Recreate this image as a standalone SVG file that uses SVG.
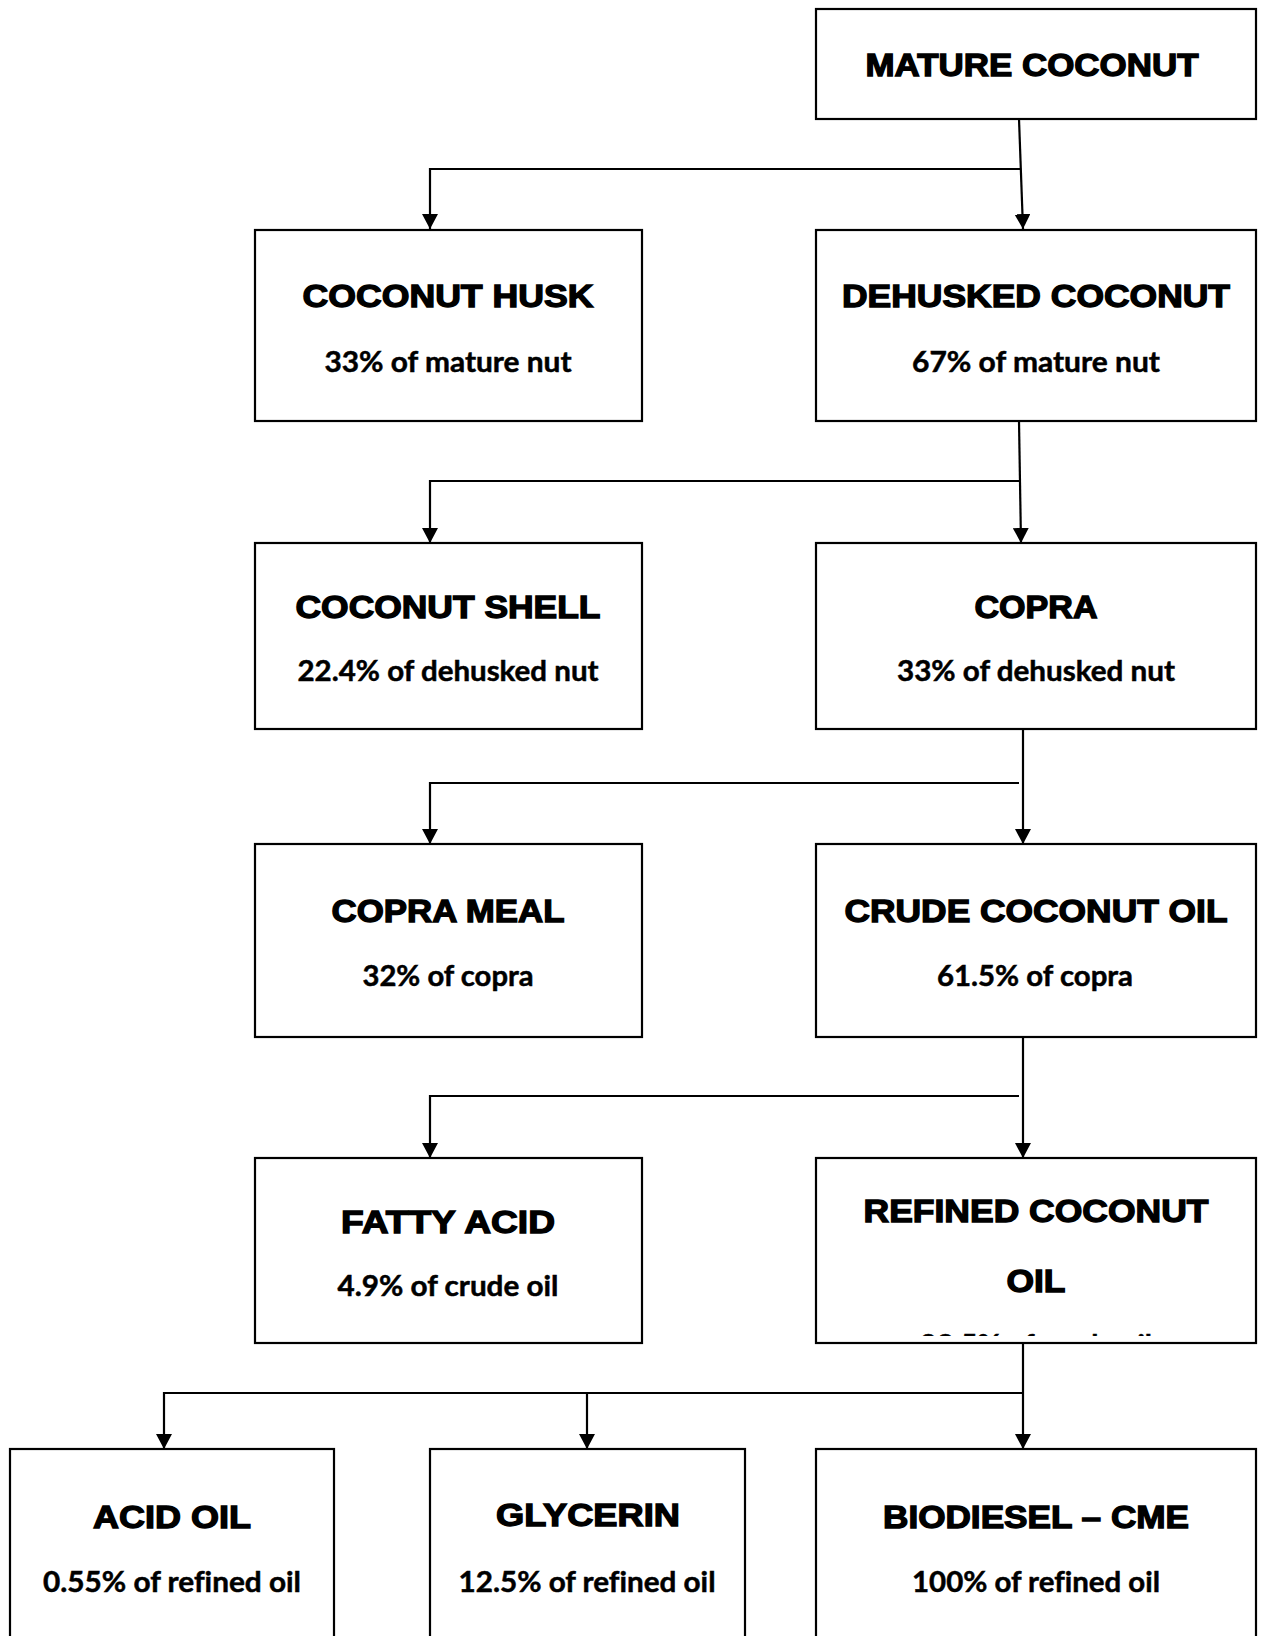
<svg xmlns="http://www.w3.org/2000/svg" width="1264" height="1636" viewBox="0 0 1264 1636">
  <style>
    .box { fill: #ffffff; stroke: #000000; stroke-width: 2.2; }
    .title { font-family: "Liberation Sans", Arial, sans-serif; font-weight: 700; font-size: 31px; fill: #000; stroke: #000; stroke-width: 1.3; text-anchor: middle; }
    .sub { font-family: Lato, "Open Sans", sans-serif; font-weight: 700; font-size: 29px; fill: #000; stroke: #000; stroke-width: 0.5; text-anchor: middle; font-variant-ligatures: none; }
    .wire { fill: none; stroke: #000; stroke-width: 2.2; }
  </style>
  <defs>
    <marker id="arrow" markerUnits="userSpaceOnUse" markerWidth="16" markerHeight="16" refX="15" refY="8" orient="auto">
      <path d="M0,0 L15,8 L0,16 Z" fill="#000"/>
    </marker>
    <clipPath id="refinedClip">
      <rect x="817" y="1159" width="438" height="177"/>
    </clipPath>
  </defs>

  <rect width="1264" height="1636" fill="#ffffff"/>

  <!-- connectors -->
  <g id="connectors">
    <path class="wire" d="M1019,119 L1023,229" marker-end="url(#arrow)"/>
    <path class="wire" d="M1020,169 H430 V229" marker-end="url(#arrow)"/>

    <path class="wire" d="M1019,421 L1021,543" marker-end="url(#arrow)"/>
    <path class="wire" d="M1019,481 H430 V543" marker-end="url(#arrow)"/>

    <path class="wire" d="M1023,729 V844" marker-end="url(#arrow)"/>
    <path class="wire" d="M1019,783 H430 V844" marker-end="url(#arrow)"/>

    <path class="wire" d="M1023,1037 V1158" marker-end="url(#arrow)"/>
    <path class="wire" d="M1019,1096 H430 V1158" marker-end="url(#arrow)"/>

    <path class="wire" d="M1023,1343 V1449" marker-end="url(#arrow)"/>
    <path class="wire" d="M1023,1393 H164 V1449" marker-end="url(#arrow)"/>
    <path class="wire" d="M587,1393 V1449" marker-end="url(#arrow)"/>
  </g>

  <!-- row 1 -->
  <g id="mature-coconut">
    <rect class="box" x="816" y="9" width="440" height="110"/>
    <text class="title" x="1032" y="76" textLength="333" lengthAdjust="spacingAndGlyphs">MATURE COCONUT</text>
  </g>

  <!-- row 2 -->
  <g id="coconut-husk">
    <rect class="box" x="255" y="230" width="387" height="191"/>
    <text class="title" x="448" y="307" textLength="291" lengthAdjust="spacingAndGlyphs">COCONUT HUSK</text>
    <text class="sub" x="448" y="372" textLength="247" lengthAdjust="spacingAndGlyphs">33% of mature nut</text>
  </g>
  <g id="dehusked-coconut">
    <rect class="box" x="816" y="230" width="440" height="191"/>
    <text class="title" x="1036" y="307" textLength="388" lengthAdjust="spacingAndGlyphs">DEHUSKED COCONUT</text>
    <text class="sub" x="1036" y="372" textLength="248" lengthAdjust="spacingAndGlyphs">67% of mature nut</text>
  </g>

  <!-- row 3 -->
  <g id="coconut-shell">
    <rect class="box" x="255" y="543" width="387" height="186"/>
    <text class="title" x="448" y="618" textLength="305" lengthAdjust="spacingAndGlyphs">COCONUT SHELL</text>
    <text class="sub" x="448" y="681" textLength="301" lengthAdjust="spacingAndGlyphs">22.4% of dehusked nut</text>
  </g>
  <g id="copra">
    <rect class="box" x="816" y="543" width="440" height="186"/>
    <text class="title" x="1036" y="618" textLength="123" lengthAdjust="spacingAndGlyphs">COPRA</text>
    <text class="sub" x="1036" y="681" textLength="278" lengthAdjust="spacingAndGlyphs">33% of dehusked nut</text>
  </g>

  <!-- row 4 -->
  <g id="copra-meal">
    <rect class="box" x="255" y="844" width="387" height="193"/>
    <text class="title" x="448" y="922" textLength="233" lengthAdjust="spacingAndGlyphs">COPRA MEAL</text>
    <text class="sub" x="448" y="986" textLength="171" lengthAdjust="spacingAndGlyphs">32% of copra</text>
  </g>
  <g id="crude-coconut-oil">
    <rect class="box" x="816" y="844" width="440" height="193"/>
    <text class="title" x="1036" y="922" textLength="383" lengthAdjust="spacingAndGlyphs">CRUDE COCONUT OIL</text>
    <text class="sub" x="1035" y="986" textLength="196" lengthAdjust="spacingAndGlyphs">61.5% of copra</text>
  </g>

  <!-- row 5 -->
  <g id="fatty-acid">
    <rect class="box" x="255" y="1158" width="387" height="185"/>
    <text class="title" x="448" y="1233" textLength="214" lengthAdjust="spacingAndGlyphs">FATTY ACID</text>
    <text class="sub" x="448" y="1296" textLength="221" lengthAdjust="spacingAndGlyphs">4.9% of crude oil</text>
  </g>
  <g id="refined-coconut-oil">
    <rect class="box" x="816" y="1158" width="440" height="185"/>
    <text class="title" x="1036" y="1222" textLength="345" lengthAdjust="spacingAndGlyphs">REFINED COCONUT</text>
    <text class="title" x="1036" y="1292" textLength="59" lengthAdjust="spacingAndGlyphs">OIL</text>
    <text class="sub" x="1036" y="1355" textLength="232" lengthAdjust="spacingAndGlyphs" clip-path="url(#refinedClip)">93.5% of crude oil</text>
  </g>

  <!-- row 6 -->
  <g id="acid-oil">
    <rect class="box" x="10" y="1449" width="324" height="200"/>
    <text class="title" x="172" y="1528" textLength="158" lengthAdjust="spacingAndGlyphs">ACID OIL</text>
    <text class="sub" x="172" y="1592" textLength="258" lengthAdjust="spacingAndGlyphs">0.55% of refined oil</text>
  </g>
  <g id="glycerin">
    <rect class="box" x="430" y="1449" width="315" height="200"/>
    <text class="title" x="588" y="1526" textLength="184" lengthAdjust="spacingAndGlyphs">GLYCERIN</text>
    <text class="sub" x="587" y="1592" textLength="257" lengthAdjust="spacingAndGlyphs">12.5% of refined oil</text>
  </g>
  <g id="biodiesel-cme">
    <rect class="box" x="816" y="1449" width="440" height="200"/>
    <text class="title" x="1036" y="1528" textLength="306" lengthAdjust="spacingAndGlyphs">BIODIESEL – CME</text>
    <text class="sub" x="1036" y="1592" textLength="248" lengthAdjust="spacingAndGlyphs">100% of refined oil</text>
  </g>
</svg>
